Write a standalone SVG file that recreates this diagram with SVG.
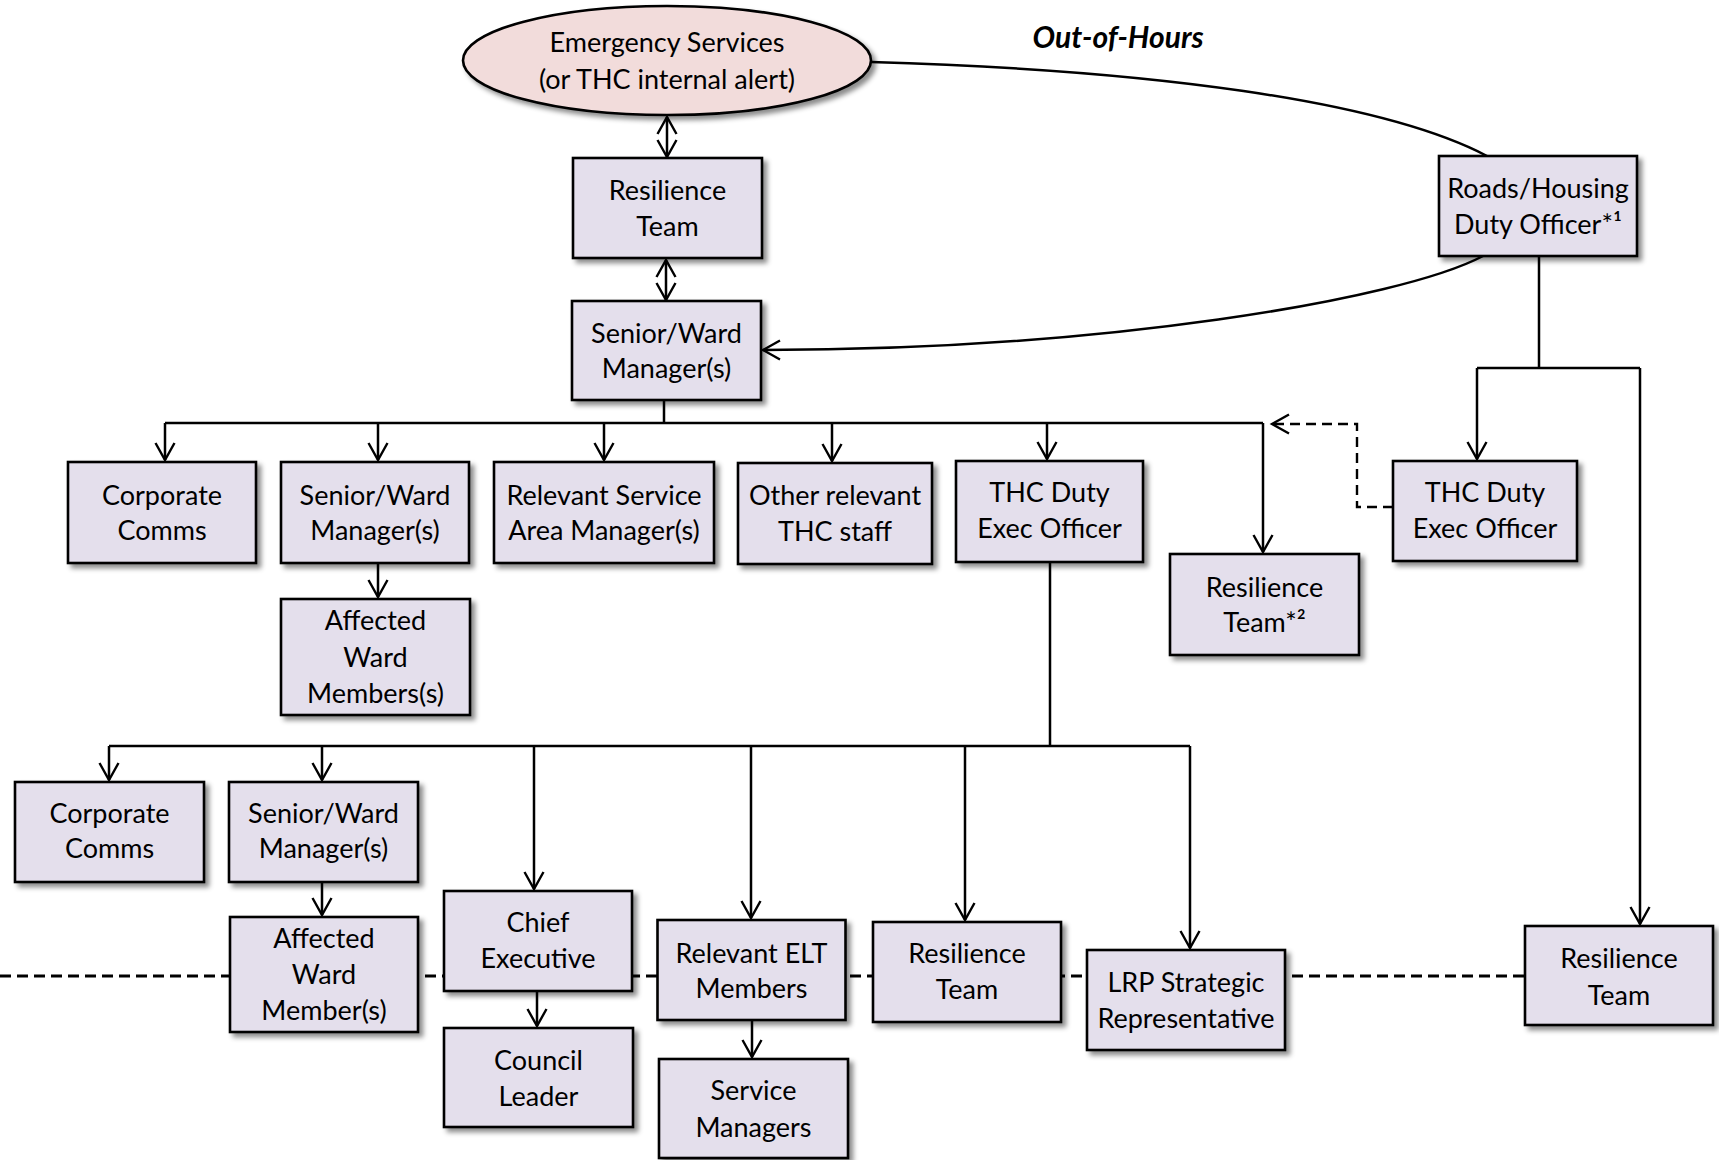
<svg xmlns="http://www.w3.org/2000/svg" width="1719" height="1160" viewBox="0 0 1719 1160">
<style>
.box{fill:#E4DFEC;stroke:#000;stroke-width:2.6;filter:url(#sh)}
.ell{fill:#F2DCDB;stroke:#000;stroke-width:2.6;filter:url(#sh)}
text{font-family:Lato,"Open Sans","Liberation Sans",sans-serif;font-size:27px;fill:#000;text-anchor:middle}
.ln{fill:none;stroke:#000;stroke-width:2.5}
.arr{marker-end:url(#ah)}
.dbl{marker-start:url(#ah);marker-end:url(#ah)}
.dash{fill:none;stroke:#000;stroke-width:3;stroke-dasharray:11 6}
.title{font-weight:bold;font-style:italic;font-size:30px}
</style>
<defs>
<filter id="sh" x="-10%" y="-10%" width="130%" height="140%">
<feDropShadow dx="4" dy="4" stdDeviation="2.5" flood-color="#000" flood-opacity="0.45"/>
</filter>
<marker id="ah" viewBox="0 0 22 22" refX="19" refY="11" markerWidth="22" markerHeight="22" markerUnits="userSpaceOnUse" orient="auto-start-reverse">
<path d="M2,1.5 L19,11 L2,20.5" fill="none" stroke="#000" stroke-width="2.4"/>
</marker>
</defs>

<g id="connectors">
<line class="dash" x1="0" y1="976" x2="1525" y2="976"/>
<line class="ln dbl" x1="667" y1="117" x2="667" y2="157"/>
<line class="ln dbl" x1="666" y1="260" x2="666" y2="300"/>
<path class="ln" d="M871,62 C1150,70 1380,100 1487,156"/>
<path class="ln arr" d="M1483,256 C1400,300 1100,350 763,350"/>
<path class="ln" d="M664,400 V423 M165,423 H1263"/>
<line class="ln arr" x1="165" y1="423" x2="165" y2="460"/>
<line class="ln arr" x1="378" y1="423" x2="378" y2="460"/>
<line class="ln arr" x1="604" y1="423" x2="604" y2="460"/>
<line class="ln arr" x1="832" y1="423" x2="832" y2="461"/>
<line class="ln arr" x1="1047" y1="423" x2="1047" y2="459"/>
<line class="ln arr" x1="1263" y1="423" x2="1263" y2="552"/>
<line class="ln arr" x1="378" y1="563" x2="378" y2="597"/>
<path class="dash arr" style="stroke-width:2.4;stroke-dasharray:10 6" d="M1393,507 H1357 V424 H1272"/>
<path class="ln" d="M1539,256 V368 M1477,368 H1640"/>
<line class="ln arr" x1="1477" y1="368" x2="1477" y2="459"/>
<line class="ln arr" x1="1640" y1="368" x2="1640" y2="924"/>
<path class="ln" d="M1050,562 V746 M109,746 H1190"/>
<line class="ln arr" x1="109" y1="746" x2="109" y2="780"/>
<line class="ln arr" x1="322" y1="746" x2="322" y2="780"/>
<line class="ln arr" x1="534" y1="746" x2="534" y2="889"/>
<line class="ln arr" x1="751" y1="746" x2="751" y2="918"/>
<line class="ln arr" x1="965" y1="746" x2="965" y2="920"/>
<line class="ln arr" x1="1190" y1="746" x2="1190" y2="948"/>
<line class="ln arr" x1="322" y1="882" x2="322" y2="915"/>
<line class="ln arr" x1="537" y1="991" x2="537" y2="1026"/>
<line class="ln arr" x1="752" y1="1020" x2="752" y2="1057"/>
</g>

<text class="title" x="1118" y="48">Out-of-Hours</text>

<g id="emergency">
<ellipse class="ell" cx="667" cy="60.5" rx="204" ry="54.5"/>
<text x="667" y="52">Emergency Services</text>
<text x="667" y="89">(or THC internal alert)</text>
</g>
<g id="resilience-top">
<rect class="box" x="573" y="158" width="189" height="100"/>
<text x="667.5" y="200">Resilience</text>
<text x="667.5" y="236">Team</text>
</g>
<g id="senior-top">
<rect class="box" x="572" y="301" width="189" height="99"/>
<text x="666.5" y="343">Senior/Ward</text>
<text x="666.5" y="378">Manager(s)</text>
</g>
<g id="roads">
<rect class="box" x="1439" y="156" width="198" height="100"/>
<text x="1538" y="198">Roads/Housing</text>
<text x="1538" y="234">Duty Officer*¹</text>
</g>
<g id="corp-comms-1">
<rect class="box" x="68" y="462" width="188" height="101"/>
<text x="162" y="505">Corporate</text>
<text x="162" y="540">Comms</text>
</g>
<g id="senior-2">
<rect class="box" x="281" y="462" width="188" height="101"/>
<text x="375" y="505">Senior/Ward</text>
<text x="375" y="540">Manager(s)</text>
</g>
<g id="affected-1">
<rect class="box" x="281" y="599" width="189" height="116"/>
<text x="375.5" y="630">Affected</text>
<text x="375.5" y="667">Ward</text>
<text x="375.5" y="703">Members(s)</text>
</g>
<g id="service-area">
<rect class="box" x="494" y="462" width="220" height="101"/>
<text x="604" y="505">Relevant Service</text>
<text x="604" y="540">Area Manager(s)</text>
</g>
<g id="other-staff">
<rect class="box" x="738" y="463" width="194" height="101"/>
<text x="835" y="505">Other relevant</text>
<text x="835" y="541">THC staff</text>
</g>
<g id="thc-duty-1">
<rect class="box" x="956" y="461" width="187" height="101"/>
<text x="1049.5" y="502">THC Duty</text>
<text x="1049.5" y="538">Exec Officer</text>
</g>
<g id="resilience-2">
<rect class="box" x="1170" y="554" width="189" height="101"/>
<text x="1264.5" y="597">Resilience</text>
<text x="1264.5" y="632">Team*²</text>
</g>
<g id="thc-duty-2">
<rect class="box" x="1393" y="461" width="184" height="100"/>
<text x="1485" y="502">THC Duty</text>
<text x="1485" y="538">Exec Officer</text>
</g>
<g id="corp-comms-2">
<rect class="box" x="15" y="782" width="189" height="100"/>
<text x="109.5" y="823">Corporate</text>
<text x="109.5" y="858">Comms</text>
</g>
<g id="senior-3">
<rect class="box" x="229" y="782" width="189" height="100"/>
<text x="323.5" y="823">Senior/Ward</text>
<text x="323.5" y="858">Manager(s)</text>
</g>
<g id="affected-2">
<rect class="box" x="230" y="917" width="188" height="115"/>
<text x="324" y="948">Affected</text>
<text x="324" y="984">Ward</text>
<text x="324" y="1020">Member(s)</text>
</g>
<g id="chief-exec">
<rect class="box" x="444" y="891" width="188" height="100"/>
<text x="538" y="932">Chief</text>
<text x="538" y="968">Executive</text>
</g>
<g id="council-leader">
<rect class="box" x="444" y="1028" width="189" height="99"/>
<text x="538.5" y="1070">Council</text>
<text x="538.5" y="1106">Leader</text>
</g>
<g id="elt">
<rect class="box" x="657.5" y="920" width="188" height="100"/>
<text x="751.5" y="963">Relevant ELT</text>
<text x="751.5" y="998">Members</text>
</g>
<g id="service-managers">
<rect class="box" x="659" y="1059" width="189" height="99"/>
<text x="753.5" y="1100">Service</text>
<text x="753.5" y="1137">Managers</text>
</g>
<g id="resilience-3">
<rect class="box" x="873" y="922" width="188" height="100"/>
<text x="967" y="963">Resilience</text>
<text x="967" y="999">Team</text>
</g>
<g id="lrp">
<rect class="box" x="1087" y="950" width="198" height="100"/>
<text x="1186" y="992">LRP Strategic</text>
<text x="1186" y="1028">Representative</text>
</g>
<g id="resilience-4">
<rect class="box" x="1525" y="926" width="188" height="99"/>
<text x="1619" y="968">Resilience</text>
<text x="1619" y="1005">Team</text>
</g>
</svg>
